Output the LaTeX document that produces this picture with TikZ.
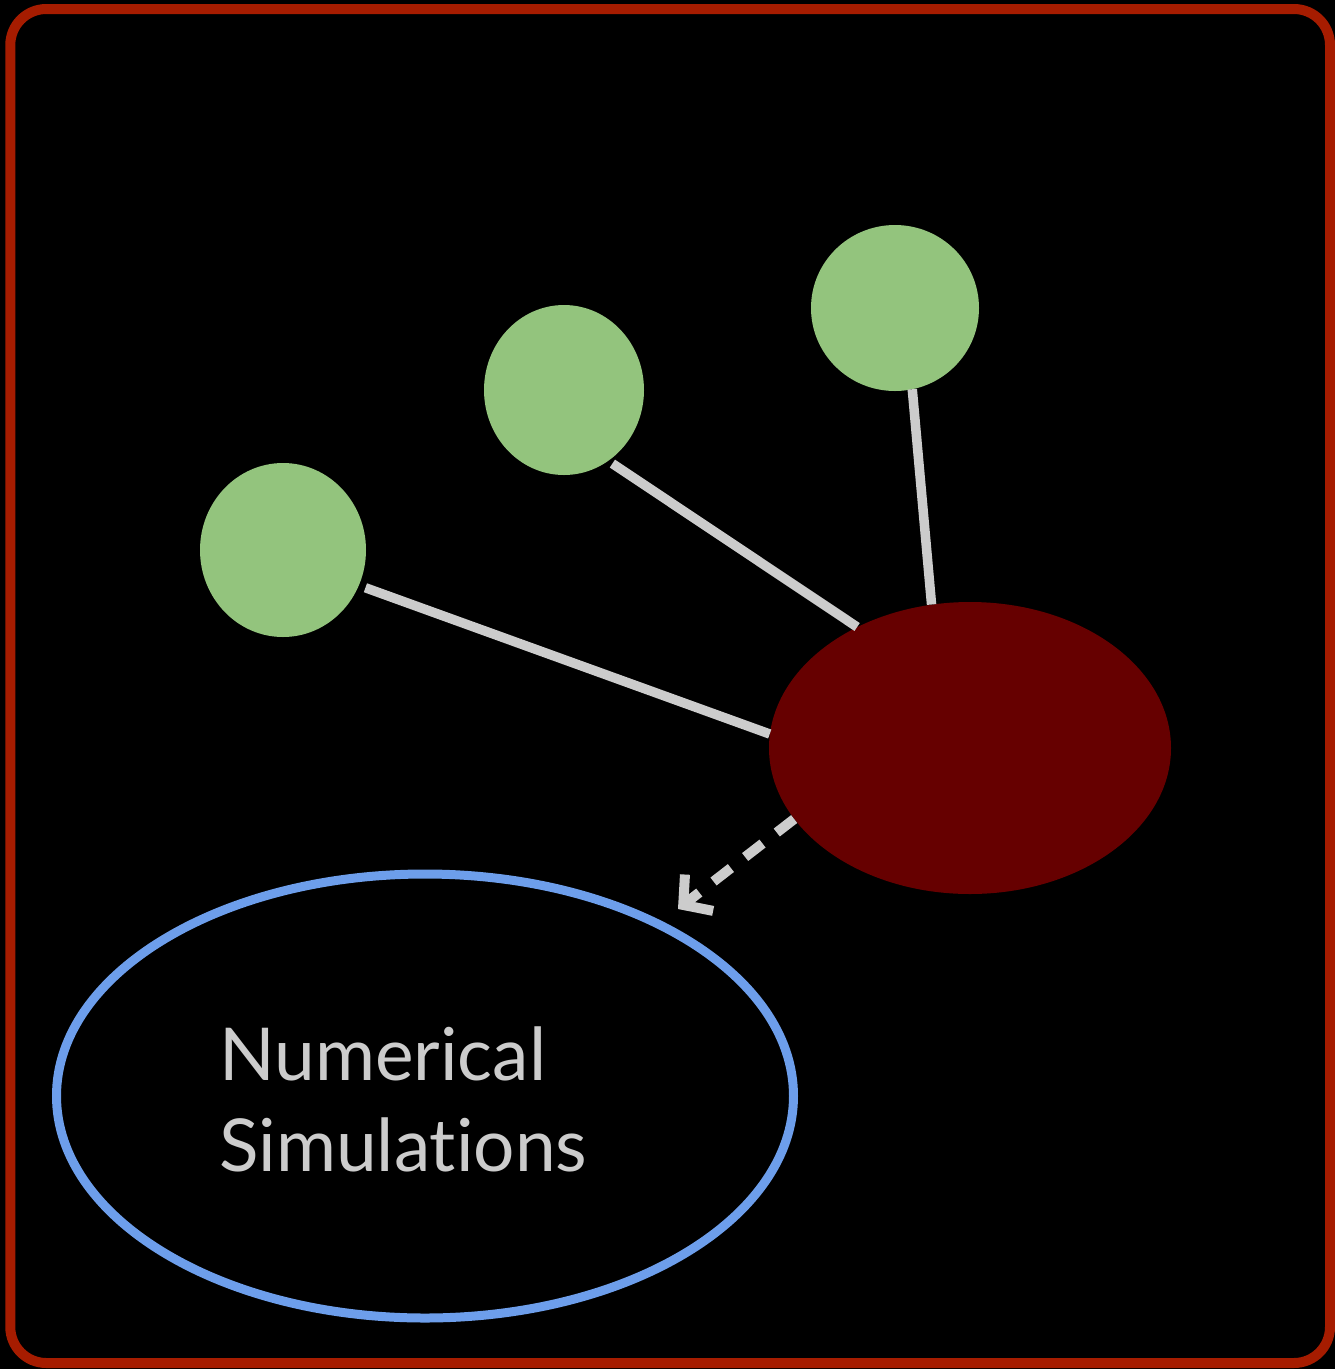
\documentclass[tikz,border=0pt]{standalone}
\usepackage{fontspec}
\setmainfont{Lato}[Ligatures=NoCommon]
\usetikzlibrary{shapes.geometric,arrows.meta}
\definecolor{frame}{HTML}{A61C00}
\definecolor{leaf}{HTML}{93C47D}
\definecolor{hubc}{HTML}{660000}
\definecolor{simc}{HTML}{6D9EEB}
\definecolor{linkc}{HTML}{CCCCCC}
\begin{document}
\begin{tikzpicture}[x=1pt,y=-1pt,
  leafnode/.style={ellipse,fill=leaf,inner sep=0pt,outer sep=0pt},
  link/.style={draw=linkc,line width=9.5pt},
  dashlink/.style={draw=linkc,line width=10pt,dash pattern=on 22pt off 18pt,
    -{Straight Barb[length=20pt,width=46pt,line width=10pt]}}]
\useasboundingbox (0,0) rectangle (1335,1369);
\fill[black] (0,0) rectangle (1335,1369);
\draw[frame,line width=10pt,rounded corners=36pt] (10.3,9) rectangle (1330,1363);
\node[leafnode,minimum width=166pt,minimum height=174pt] (g1) at (283,550) {};
\node[leafnode,minimum width=160pt,minimum height=170pt] (g2) at (564,390) {};
\node[leafnode,minimum width=168pt,minimum height=166pt] (g3) at (895,308) {};
\node[ellipse,fill=hubc,inner sep=0pt,minimum width=402pt,minimum height=292pt] (hub) at (970,748) {};
\node[ellipse,draw=simc,line width=9pt,inner sep=0pt,minimum width=737pt,minimum height=444pt] (sim) at (425,1096) {};
\node[anchor=base west,align=left,inner sep=0pt,text=linkc,font=\fontsize{73}{91}\selectfont] (lbl) at (219,1171) {Numerical\\Simulations};
\coordinate (tip) at (678,909);
\draw[link,shorten <=7pt] (g1.-25) -- (hub.176);
\draw[link,shorten <=5pt] (g2.-58) -- (hub.133);
\draw[link] (g3.-78) -- (hub.105);
\draw[dashlink] (hub.202) -- (tip);
\end{tikzpicture}
\end{document}
